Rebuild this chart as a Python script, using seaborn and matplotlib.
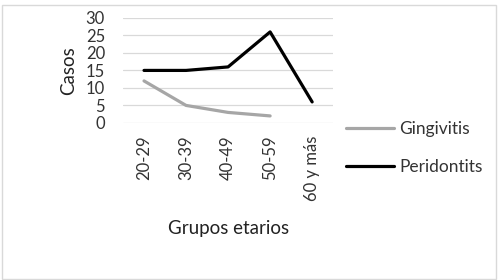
import numpy as np
import pandas as pd
import matplotlib
matplotlib.use("Agg")
import matplotlib.pyplot as plt
import seaborn as sns
from matplotlib.patches import Rectangle
from matplotlib.lines import Line2D

grupos = ["20-29", "30-39", "40-49", "50-59", "60 y más"]
gingivitis = [12, 5, 3, 2, np.nan]
peridontits = [15, 15, 16, 26, 6]

df = pd.DataFrame({
    "grupo": grupos * 2,
    "casos": gingivitis + peridontits,
    "serie": ["Gingivitis"] * len(grupos) + ["Peridontits"] * len(grupos),
})
df["x"] = list(range(len(grupos))) * 2

sns.set_style("white")
plt.rcParams["font.family"] = ["Lato", "DejaVu Sans"]

fig = plt.figure(figsize=(4.98, 2.80), dpi=100)
ax = fig.add_axes([0.247, 0.561, 0.422, 0.375])

sns.lineplot(
    data=df.dropna(), x="x", y="casos", hue="serie",
    palette={"Gingivitis": "#a6a6a6", "Peridontits": "#000000"},
    linewidth=2.3, sort=False, ax=ax, legend=False,
)

ax.set_xlim(-0.5, len(grupos) - 0.5)
ax.set_ylim(0, 30)
ax.set_yticks(range(0, 31, 5))
ax.set_xticks(range(len(grupos)))
ax.set_xticklabels(grupos, rotation=90, fontsize=12, color="#333333")
ax.tick_params(axis="y", labelsize=12, labelcolor="#333333", length=0, pad=13)
ax.tick_params(axis="x", length=0, pad=9)
ax.yaxis.grid(True, color="#d9d9d9", linewidth=0.9)
ax.set_axisbelow(True)
for s in ax.spines.values():
    s.set_visible(False)

ax.set_ylabel("Casos", fontsize=13.5, color="#222222", labelpad=6)
ax.set_xlabel("Grupos etarios", fontsize=13.5, color="#222222", labelpad=14)

handles = [
    Line2D([], [], color="#a6a6a6", linewidth=2.3),
    Line2D([], [], color="#000000", linewidth=2.3),
]
fig.legend(handles, ["Gingivitis", "Peridontits"], loc="upper left",
           bbox_to_anchor=(0.663, 0.625), frameon=False, fontsize=12.5,
           handlelength=2.8, handletextpad=0.3, labelspacing=1.3,
           labelcolor="#333333")

fig.patches.append(Rectangle((0.004, 0.004), 0.992, 0.978, transform=fig.transFigure,
                             fill=False, edgecolor="#d9d9d9", linewidth=1))

fig.savefig("out.png", dpi=100)
